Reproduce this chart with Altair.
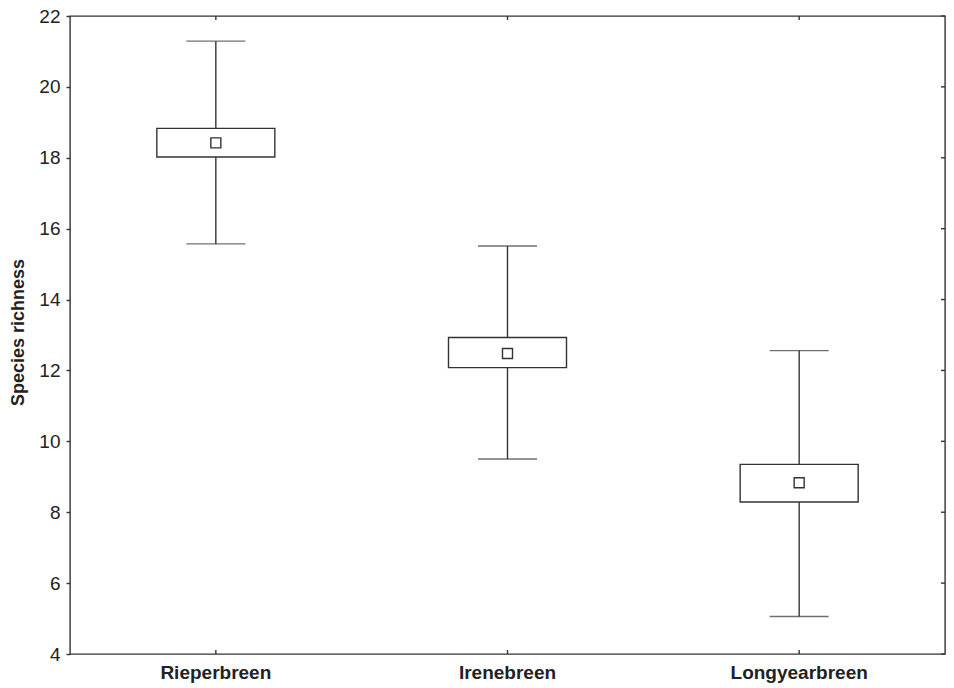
import altair as alt
import pandas as pd

sites = ["Rieperbreen", "Irenebreen", "Longyearbreen"]
mean_vals = [18.42, 12.48, 8.83]
box_low = [18.02, 12.08, 8.29]
box_high = [18.83, 12.93, 9.35]
whisk_low = [15.57, 9.50, 5.06]
whisk_high = [21.29, 15.51, 12.56]
y_ticks = [4, 6, 8, 10, 12, 14, 16, 18, 20, 22]

W, H = 875, 638
LINE = "#333333"
TEXT = "#222222"
FONT = "Liberation Sans"

df = pd.DataFrame({
    "site": sites, "mean": mean_vals, "blo": box_low, "bhi": box_high,
    "wlo": whisk_low, "whi": whisk_high,
})
ticks_df = pd.DataFrame({"v": y_ticks})

xscale = alt.Scale(domain=sites, paddingInner=0, paddingOuter=0)
yscale = alt.Scale(domain=[4, 22], nice=False, zero=False)

x_enc = alt.X("site:N", scale=xscale, sort=sites,
              axis=alt.Axis(title=None, ticks=False, domain=False, labelAngle=0,
                            labelFont=FONT, labelFontSize=19, labelFontWeight="bold",
                            labelColor=TEXT, labelPadding=9))

y_axis = alt.Axis(title="Species richness", values=y_ticks, grid=False, domain=False,
                  tickSize=4, tickColor=LINE, tickWidth=1.4, labelPadding=6,
                  labelFont=FONT, labelFontSize=19, labelColor=TEXT,
                  titleFont=FONT, titleFontSize=18, titleFontWeight="bold",
                  titleColor=TEXT, titleX=-47, titleY=316, titleBaseline="alphabetic",
                  titleAlign="center", titleAngle=270)

base = alt.Chart(df)

whisker = base.mark_rule(color=LINE, strokeWidth=1.4).encode(
    x=x_enc,
    y=alt.Y("wlo:Q", scale=yscale, axis=y_axis),
    y2="whi:Q",
)
box = base.mark_bar(size=118, fill="white", stroke=LINE, strokeWidth=1.4).encode(
    x=alt.X("site:N", scale=xscale, sort=sites),
    y=alt.Y("blo:Q", scale=yscale),
    y2="bhi:Q",
)
cap_lo = base.mark_tick(size=59, thickness=1.4, color=LINE, orient="horizontal").encode(
    x=alt.X("site:N", scale=xscale, sort=sites),
    y=alt.Y("wlo:Q", scale=yscale),
)
cap_hi = base.mark_tick(size=59, thickness=1.4, color=LINE, orient="horizontal").encode(
    x=alt.X("site:N", scale=xscale, sort=sites),
    y=alt.Y("whi:Q", scale=yscale),
)
mean_pt = base.mark_square(size=100, filled=False, stroke=LINE, strokeWidth=1.4, opacity=1).encode(
    x=alt.X("site:N", scale=xscale, sort=sites),
    y=alt.Y("mean:Q", scale=yscale),
)
top_ticks = base.mark_rule(color=LINE, strokeWidth=1.4).encode(
    x=alt.X("site:N", scale=xscale, sort=sites),
    y=alt.value(0), y2=alt.value(4),
)
bot_ticks = base.mark_rule(color=LINE, strokeWidth=1.4).encode(
    x=alt.X("site:N", scale=xscale, sort=sites),
    y=alt.value(H - 4), y2=alt.value(H),
)
right_ticks = alt.Chart(ticks_df).mark_rule(color=LINE, strokeWidth=1.4).encode(
    y=alt.Y("v:Q", scale=yscale),
    x=alt.value(W - 4), x2=alt.value(W),
)

chart = alt.layer(
    whisker, box, cap_lo, cap_hi, mean_pt, top_ticks, bot_ticks, right_ticks
).properties(
    width=W, height=H,
    autosize=alt.AutoSizeParams(type="none"),
    padding={"left": 62, "top": 8, "right": 1, "bottom": 32},
    background="white",
).configure_view(
    stroke=LINE, strokeWidth=1.4
)

chart.save("out.html", embed_options={"renderer": "svg", "actions": False})
